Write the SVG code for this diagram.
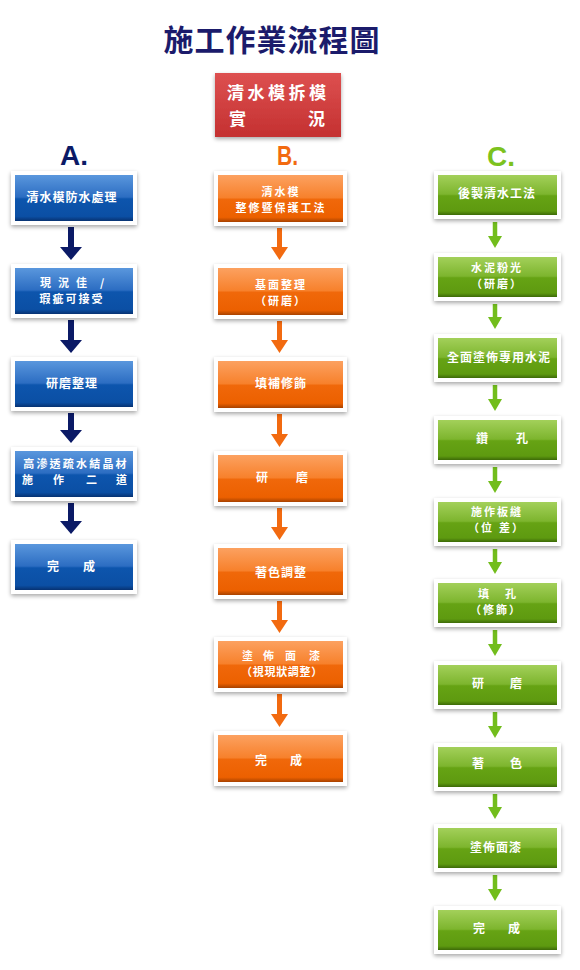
<svg xmlns="http://www.w3.org/2000/svg" width="580" height="970" viewBox="0 0 580 970">
<style>
.t{font-family:"Noto Sans CJK TC","Noto Sans CJK SC",sans-serif;font-weight:bold;font-size:12px;fill:#fff;text-anchor:middle;letter-spacing:1px}
.ts{font-family:"Noto Sans CJK TC","Noto Sans CJK SC",sans-serif;font-weight:bold;font-size:12px;fill:#fff}
.s{font-size:11px}
.frame{fill:#fff;filter:url(#sh)}
.lbl{font-family:"Liberation Sans",Arial,sans-serif;font-weight:bold;font-size:28px}
.ca{stroke:#0b1a66;stroke-width:6;fill:none}
.cb{stroke:#f26a10;stroke-width:5;fill:none}
.cc{stroke:#72bd1c;stroke-width:4.5;fill:none}
</style>
<defs>
<filter id="sh" x="-10%" y="-20%" width="120%" height="150%">
<feGaussianBlur in="SourceAlpha" stdDeviation="2"/>
<feOffset dy="2" result="b"/>
<feComponentTransfer><feFuncA type="linear" slope="0.35"/></feComponentTransfer>
<feMerge><feMergeNode/><feMergeNode in="SourceGraphic"/></feMerge>
</filter>
<linearGradient id="gA" x1="0" y1="0" x2="0" y2="1">
<stop offset="0" stop-color="#5a97dd"/><stop offset="0.48" stop-color="#2c6dc2"/><stop offset="0.52" stop-color="#0d55ad"/><stop offset="0.9" stop-color="#0b4fa4"/><stop offset="1" stop-color="#073272"/>
</linearGradient>
<linearGradient id="gB" x1="0" y1="0" x2="0" y2="1">
<stop offset="0" stop-color="#fca160"/><stop offset="0.48" stop-color="#f7812c"/><stop offset="0.52" stop-color="#f0680a"/><stop offset="0.9" stop-color="#ec6000"/><stop offset="1" stop-color="#a84200"/>
</linearGradient>
<linearGradient id="gC" x1="0" y1="0" x2="0" y2="1">
<stop offset="0" stop-color="#a3d05a"/><stop offset="0.48" stop-color="#7db52e"/><stop offset="0.52" stop-color="#66a314"/><stop offset="0.9" stop-color="#5e9a10"/><stop offset="1" stop-color="#3d6a08"/>
</linearGradient>
<linearGradient id="gR" x1="0" y1="0" x2="0" y2="1">
<stop offset="0" stop-color="#dd5050"/><stop offset="1" stop-color="#c43030"/>
</linearGradient>
<marker id="mA" viewBox="0 -11 13 22" refX="0" refY="0" markerUnits="userSpaceOnUse" markerWidth="13" markerHeight="22" orient="auto"><path d="M0,-11 L13,0 L0,11 z" fill="#0b1a66"/></marker>
<marker id="mB" viewBox="0 -8.5 13 17" refX="0" refY="0" markerUnits="userSpaceOnUse" markerWidth="13" markerHeight="17" orient="auto"><path d="M0,-8.5 L13,0 L0,8.5 z" fill="#f26a10"/></marker>
<marker id="mC" viewBox="0 -7 12 14" refX="0" refY="0" markerUnits="userSpaceOnUse" markerWidth="12" markerHeight="14" orient="auto"><path d="M0,-7 L12,0 L0,7 z" fill="#72bd1c"/></marker>
</defs>
<rect width="580" height="970" fill="#fff"/>

<text x="272" y="51" font-family="'Noto Sans CJK TC','Noto Sans CJK SC',serif" font-size="30" font-weight="bold" fill="#1b1b6b" text-anchor="middle" letter-spacing="1">施工作業流程圖</text>

<g id="top">
<rect x="215" y="73" width="126" height="64" fill="url(#gR)" filter="url(#sh)"/>
<text class="ts" style="font-size:17px;letter-spacing:3.5px" x="227" y="99">清水模拆模</text>
<text class="ts" style="font-size:17px" x="229" y="125">實</text>
<text class="ts" style="font-size:17px" x="308" y="125">況</text>
</g>

<text class="lbl" x="60" y="165" fill="#0b1a66">A.</text>
<text class="lbl" x="277" y="165" fill="#f26a10" textLength="21" lengthAdjust="spacingAndGlyphs">B.</text>
<text class="lbl" x="487" y="166" fill="#7cc21e">C.</text>

<g id="connectors">
<line class="ca" x1="71" y1="227" x2="71" y2="247" marker-end="url(#mA)"/>
<line class="ca" x1="71" y1="320" x2="71" y2="340" marker-end="url(#mA)"/>
<line class="ca" x1="71" y1="413" x2="71" y2="430" marker-end="url(#mA)"/>
<line class="ca" x1="71" y1="503" x2="71" y2="521" marker-end="url(#mA)"/>

<line class="cb" x1="279.5" y1="228" x2="279.5" y2="247" marker-end="url(#mB)"/>
<line class="cb" x1="279.5" y1="321" x2="279.5" y2="340" marker-end="url(#mB)"/>
<line class="cb" x1="279.5" y1="414" x2="279.5" y2="434" marker-end="url(#mB)"/>
<line class="cb" x1="279.5" y1="508" x2="279.5" y2="527" marker-end="url(#mB)"/>
<line class="cb" x1="279.5" y1="601" x2="279.5" y2="620" marker-end="url(#mB)"/>
<line class="cb" x1="279.5" y1="694" x2="279.5" y2="714" marker-end="url(#mB)"/>

<line class="cc" x1="495" y1="222" x2="495" y2="236" marker-end="url(#mC)"/>
<line class="cc" x1="495" y1="304" x2="495" y2="317" marker-end="url(#mC)"/>
<line class="cc" x1="495" y1="385" x2="495" y2="399" marker-end="url(#mC)"/>
<line class="cc" x1="495" y1="467" x2="495" y2="481" marker-end="url(#mC)"/>
<line class="cc" x1="495" y1="549" x2="495" y2="562" marker-end="url(#mC)"/>
<line class="cc" x1="495" y1="630" x2="495" y2="644" marker-end="url(#mC)"/>
<line class="cc" x1="495" y1="712" x2="495" y2="726" marker-end="url(#mC)"/>
<line class="cc" x1="495" y1="794" x2="495" y2="807" marker-end="url(#mC)"/>
<line class="cc" x1="495" y1="875" x2="495" y2="889" marker-end="url(#mC)"/>
</g>

<!-- Column A -->
<g id="a1"><rect class="frame" x="11" y="171" width="126" height="54"/><rect x="15" y="175" width="118" height="46" fill="url(#gA)"/>
<text class="t" x="72" y="202">清水模防水處理</text></g>
<g id="a2"><rect class="frame" x="11" y="264" width="126" height="54"/><rect x="15" y="268" width="118" height="46" fill="url(#gA)"/>
<text class="ts s" x="40" y="287">現</text><text class="ts s" x="58" y="287">況</text><text class="ts s" x="76" y="287">佳</text><text class="ts s" x="100" y="287">/</text>
<text class="t s" x="72" y="303" style="letter-spacing:2px">瑕疵可接受</text></g>
<g id="a3"><rect class="frame" x="11" y="357" width="126" height="54"/><rect x="15" y="361" width="118" height="46" fill="url(#gA)"/>
<text class="t" x="72" y="388">研磨整理</text></g>
<g id="a4"><rect class="frame" x="11" y="447" width="126" height="54"/><rect x="15" y="451" width="118" height="46" fill="url(#gA)"/>
<text class="t s" x="76" y="468" style="letter-spacing:2.2px">高滲透疏水結晶材</text>
<text class="ts s" x="22" y="484">施</text><text class="ts s" x="53" y="484">作</text><text class="ts s" x="86" y="484">二</text><text class="ts s" x="116" y="484">道</text></g>
<g id="a5"><rect class="frame" x="11" y="540" width="126" height="54"/><rect x="15" y="544" width="118" height="46" fill="url(#gA)"/>
<text class="ts" x="47" y="571">完</text><text class="ts" x="83" y="571">成</text></g>

<!-- Column B -->
<g id="b1"><rect class="frame" x="214" y="171" width="133" height="55"/><rect x="218" y="175" width="125" height="47" fill="url(#gB)"/>
<text class="t s" x="281" y="196" style="letter-spacing:2px">清水模</text>
<text class="t s" x="281" y="212" style="letter-spacing:2px">整修暨保護工法</text></g>
<g id="b2"><rect class="frame" x="214" y="264" width="133" height="55"/><rect x="218" y="268" width="125" height="47" fill="url(#gB)"/>
<text class="t s" x="281" y="289" style="letter-spacing:2px">基面整理</text>
<text class="t s" x="281" y="305" style="letter-spacing:2px">（研磨）</text></g>
<g id="b3"><rect class="frame" x="214" y="357" width="133" height="55"/><rect x="218" y="361" width="125" height="47" fill="url(#gB)"/>
<text class="t" x="281" y="388">填補修飾</text></g>
<g id="b4"><rect class="frame" x="214" y="451" width="133" height="55"/><rect x="218" y="455" width="125" height="47" fill="url(#gB)"/>
<text class="ts" x="256" y="482">研</text><text class="ts" x="296" y="482">磨</text></g>
<g id="b5"><rect class="frame" x="214" y="544" width="133" height="55"/><rect x="218" y="548" width="125" height="47" fill="url(#gB)"/>
<text class="t" x="281" y="577">著色調整</text></g>
<g id="b6"><rect class="frame" x="214" y="637" width="133" height="55"/><rect x="218" y="641" width="125" height="47" fill="url(#gB)"/>
<text class="ts s" x="242" y="660">塗</text><text class="ts s" x="263" y="660">佈</text><text class="ts s" x="285" y="660">面</text><text class="ts s" x="309" y="660">漆</text>
<text class="t s" x="282" y="676" style="letter-spacing:0.7px">（視現狀調整）</text></g>
<g id="b7"><rect class="frame" x="214" y="731" width="133" height="55"/><rect x="218" y="735" width="125" height="47" fill="url(#gB)"/>
<text class="ts" x="255" y="765">完</text><text class="ts" x="290" y="765">成</text></g>

<!-- Column C -->
<g id="c1"><rect class="frame" x="434" y="171" width="127" height="48"/><rect x="438" y="175" width="119" height="40" fill="url(#gC)"/>
<text class="t" x="497" y="198">後製清水工法</text></g>
<g id="c2"><rect class="frame" x="434" y="253" width="127" height="48"/><rect x="438" y="257" width="119" height="40" fill="url(#gC)"/>
<text class="t s" x="497" y="272" style="letter-spacing:2px">水泥粉光</text>
<text class="t s" x="497" y="288" style="letter-spacing:2px">（研磨）</text></g>
<g id="c3"><rect class="frame" x="434" y="334" width="127" height="48"/><rect x="438" y="338" width="119" height="40" fill="url(#gC)"/>
<text class="t" x="499" y="362">全面塗佈專用水泥</text></g>
<g id="c4"><rect class="frame" x="434" y="416" width="127" height="48"/><rect x="438" y="420" width="119" height="40" fill="url(#gC)"/>
<text class="ts" x="476" y="443">鑽</text><text class="ts" x="516" y="443">孔</text></g>
<g id="c5"><rect class="frame" x="434" y="498" width="127" height="48"/><rect x="438" y="502" width="119" height="40" fill="url(#gC)"/>
<text class="t s" x="497" y="516" style="letter-spacing:2px">施作板縫</text>
<text class="ts s" x="468" y="532">（</text><text class="ts s" x="481" y="532">位</text><text class="ts s" x="499" y="532">差</text><text class="ts s" x="512" y="532">）</text></g>
<g id="c6"><rect class="frame" x="434" y="579" width="127" height="48"/><rect x="438" y="583" width="119" height="40" fill="url(#gC)"/>
<text class="ts s" x="478" y="598">填</text><text class="ts s" x="505" y="598">孔</text>
<text class="t s" x="496" y="614" style="letter-spacing:2px">（修飾）</text></g>
<g id="c7"><rect class="frame" x="434" y="661" width="127" height="48"/><rect x="438" y="665" width="119" height="40" fill="url(#gC)"/>
<text class="ts" x="472" y="688">研</text><text class="ts" x="510" y="688">磨</text></g>
<g id="c8"><rect class="frame" x="434" y="743" width="127" height="48"/><rect x="438" y="747" width="119" height="40" fill="url(#gC)"/>
<text class="ts" x="472" y="768">著</text><text class="ts" x="510" y="768">色</text></g>
<g id="c9"><rect class="frame" x="434" y="824" width="127" height="48"/><rect x="438" y="828" width="119" height="40" fill="url(#gC)"/>
<text class="t" x="496" y="852">塗佈面漆</text></g>
<g id="c10"><rect class="frame" x="434" y="906" width="127" height="48"/><rect x="438" y="910" width="119" height="40" fill="url(#gC)"/>
<text class="ts" x="473" y="933">完</text><text class="ts" x="508" y="933">成</text></g>
</svg>
